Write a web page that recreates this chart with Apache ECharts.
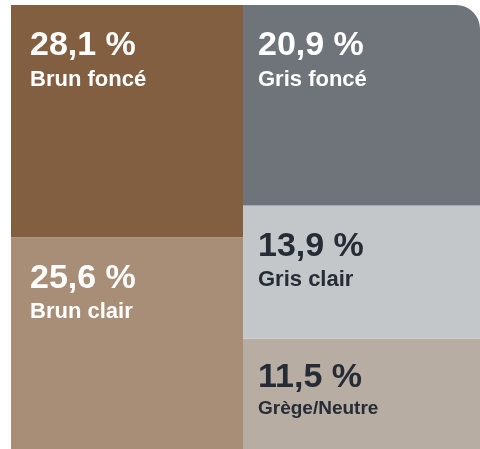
<!DOCTYPE html>
<html>
<head>
<meta charset="utf-8">
<script src="https://cdn.jsdelivr.net/npm/echarts@6/dist/echarts.min.js"></script>
<style>
  html, body { margin: 0; padding: 0; background: #fff; }
  #chart { width: 480px; height: 449px; }
</style>
</head>
<body>
<div id="chart"></div>
<script>
// two columns of the block chart
const columns = ["Bruns", "Gris"];
const names = ["Brun foncé", "Brun clair", "Gris foncé", "Gris clair", "Grège/Neutre"];
const values = [28.1, 25.6, 20.9, 13.9, 11.5];
const columnOf = [0, 0, 1, 1, 1];

const colors = ["#825f40", "#a88e76", "#6f737a", "#c4c7ca", "#b8ada2"];
const textColors = ["#fff", "#fff", "#fff", "#262c35", "#262c35"];

const chart = echarts.init(document.getElementById("chart"));

function fmt(v) {
  return String(v).replace(".", ",") + " %";
}

const series = [];
// stack from the bottom up, so walk the list backwards
for (let i = names.length - 1; i >= 0; i--) {
  const col = columnOf[i];
  const last = i === 4;
  series.push({
    name: names[i],
    type: "bar",
    xAxisIndex: col,
    yAxisIndex: col,
    stack: "col" + col,
    barWidth: "100%",
    barCategoryGap: 0,
    data: [values[i]],
    itemStyle: {
      color: colors[i],
      borderRadius: i === 2 ? [0, 24, 0, 0] : 0,
    },
    label: {
      show: true,
      position: col === 0 ? [19, 22] : [15, last ? 20 : 22],
      formatter: "{v|" + fmt(values[i]) + "}\n{" + (last ? "s" : "n") + "|" + names[i] + "}",
      rich: {
        v: {
          fontFamily: "Liberation Sans",
          fontWeight: "bold",
          fontSize: 34,
          lineHeight: 38,
          color: textColors[i],
        },
        n: {
          fontFamily: "Liberation Sans",
          fontWeight: "bold",
          fontSize: 22,
          lineHeight: 30,
          color: textColors[i],
        },
        s: {
          fontFamily: "Liberation Sans",
          fontWeight: "bold",
          fontSize: 19,
          lineHeight: 24,
          color: textColors[i],
        },
      },
    },
    emphasis: { disabled: true },
  });
}

chart.setOption({
  animation: false,
  grid: [
    { left: 11, top: 5, width: 232, bottom: 0 },
    { left: 243, top: 5, right: 0, bottom: 0 },
  ],
  xAxis: [
    { gridIndex: 0, type: "category", data: [columns[0]], show: false },
    { gridIndex: 1, type: "category", data: [columns[1]], show: false },
  ],
  yAxis: [
    { gridIndex: 0, type: "value", min: 0, max: "dataMax", show: false },
    { gridIndex: 1, type: "value", min: 0, max: "dataMax", show: false },
  ],
  series: series,
});
</script>
</body>
</html>
